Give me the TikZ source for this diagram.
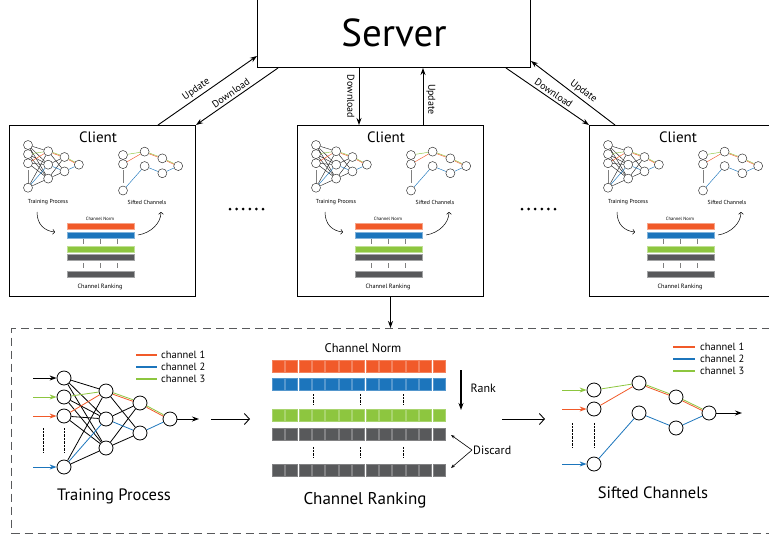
\documentclass[tikz,border=0pt]{standalone}
\usepackage{fontspec}
\setmainfont{PT Sans}
\usetikzlibrary{arrows.meta, calc}
\tikzset{>={Stealth[length=7pt, width=5pt]}}

\definecolor{chorange}{RGB}{241,90,41}
\definecolor{chblue}{RGB}{28,117,188}
\definecolor{chgreen}{RGB}{141,198,63}
\definecolor{chgray}{RGB}{88,89,91}

\tikzset{
  fs/.style={font=\fontsize{#1pt}{#1pt}\selectfont},
  neuron/.style={circle, draw, fill=white, inner sep=0pt, minimum size=#1},
  clientbox/.style={draw, line width=1pt, minimum width=186pt, minimum height=171pt,
    anchor=north west, inner sep=0pt},
  dots/.style={dash pattern=on 0.7pt off 0.7pt, line width=1pt},
  trainnet/.pic={
    \foreach \n/\y in {1/0, 2/19, 3/38, 4/89} \node[neuron=#1] (-i\n) at (0,\y) {};
    \foreach \n/\y in {1/13, 2/41, 3/70} \node[neuron=#1] (-h\n) at (42,\y) {};
    \foreach \n/\y in {1/25, 2/55} \node[neuron=#1] (-g\n) at (76,\y) {};
    \node[neuron=#1] (-o) at (106,41) {};
    \foreach \a/\b in {1/1, 1/2, 1/3, 2/2, 2/3, 3/2, 3/3, 4/1, 4/3} \draw (-i\a) -- (-h\b);
    \foreach \a/\b in {1/2, 2/1, 3/1, 3/2} \draw (-h\a) -- (-g\b);
    \draw[chgreen] (-i2) -- (-h1);
    \draw[chorange] (-i3) -- (-h1);
    \draw[chblue] (-i4) -- (-h2) -- (-g2) -- (-o);
    \draw[chgreen, transform canvas={yshift=\pgflinewidth}] (-h1) -- (-g1) -- (-o);
    \draw[chorange, transform canvas={yshift=-\pgflinewidth}] (-h1) -- (-g1) -- (-o);
  },
  siftnet/.pic={
    \foreach \n/\y in {1/0, 2/19, 3/74} \node[neuron=#1] (-i\n) at (0,\y) {};
    \foreach \n/\y in {1/-7, 2/23} \node[neuron=#1] (-h\n) at (45,\y) {};
    \foreach \n/\y in {1/7, 2/38} \node[neuron=#1] (-g\n) at (82,\y) {};
    \node[neuron=#1] (-o) at (115,23) {};
    \draw[chgreen] (-i1) -- (-h1);
    \draw[chorange] (-i2) -- (-h1);
    \draw[chblue] (-i3) -- (-h2) -- (-g2) -- (-o);
    \draw[chgreen, transform canvas={yshift=\pgflinewidth}] (-h1) -- (-g1) -- (-o);
    \draw[chorange, transform canvas={yshift=-\pgflinewidth}] (-h1) -- (-g1) -- (-o);
  },
}

% one client panel: #1 name, #2 top left corner
\newcommand{\clientpanel}[2]{%
  \node[clientbox] (#1) at (#2) {};
  \begin{scope}[shift={(#1.north west)}]
    \node[fs=15] (#1-title) at (89,12) {Client};
    \pic[scale=0.48, line width=0.45pt, black!85] (#1-tp) at (19,20) {trainnet=9pt};
    \pic[scale=0.48, line width=0.45pt, black!85] (#1-sc) at (114,30) {siftnet=9pt};
    \draw[gray, line width=0.5pt] (19,45) -- (19,58) (114,45) -- (114,58);
    \node[fs=5.8] (#1-tlab) at (39,77) {Training Process};
    \node[fs=5.8] (#1-slab) at (138,77) {Sifted Channels};
    \node[fs=4.6] (#1-norm) at (91,94) {Channel Norm};
    \foreach \c/\y in {chorange/98, chblue/107, chgreen/121, chgray/129, chgray/146}
      \filldraw[fill=\c, draw=\c!55!white, line width=0.4pt] (58,\y) rectangle (125,\y+6);
    \foreach \x in {74, 91, 108} \draw[gray, line width=0.5pt] (\x,114) -- (\x,119) (\x,138) -- (\x,143);
    \node[fs=6.2] (#1-rank) at (91,162) {Channel Ranking};
    \draw[-{To[length=2.5pt]}, line width=0.5pt] (28,87) .. controls (28,100) and (36,106) .. (46,107);
    \draw[-{To[length=2.5pt]}, line width=0.5pt] (129,110) .. controls (142,108) and (152,98) .. (152,87);
  \end{scope}
}

\begin{document}
\begin{tikzpicture}[x=1pt, y=-1pt]
\useasboundingbox (0,0) rectangle (769,539);

\node[draw, line width=1pt, minimum width=273pt, minimum height=69pt, anchor=north west,
  inner sep=0pt, fs=39] (server) at (257,-2) {Server};

\clientpanel{L}{9,125}
\clientpanel{M}{297,125}
\clientpanel{R}{589,125}

% server <-> clients
\coordinate (l-up) at ($(L.north west)+(149,0)$);
\coordinate (s-lu) at ($(server.south west)+(0,-12)$);
\coordinate (s-ld) at ($(server.south west)+(21,0)$);
\coordinate (s-md) at ($(server.south west)+(102,0)$);
\coordinate (m-dn) at ($(M.north west)+(62,0)$);
\coordinate (m-up) at ($(M.north west)+(126,0)$);
\coordinate (s-mu) at ($(server.south west)+(166,0)$);
\coordinate (s-rd) at ($(server.south east)+(-25,0)$);
\coordinate (r-up) at ($(R.north west)+(26,0)$);
\coordinate (s-ru) at ($(server.south east)+(0,-7)$);

\begin{scope}[line width=0.9pt, every node/.style={fs=10, sloped, inner sep=2.5pt}]
\draw[->] (l-up) -- node[above, pos=0.43] {Update} (s-lu);
\draw[<-] (L.north east) -- node[above, pos=0.47] {Download} (s-ld);
\draw[->] (s-md) -- node[below, inner sep=4pt] {Download} (m-dn);
\draw[<-] (s-mu) -- node[above, pos=0.55, inner sep=3pt] {Update} (m-up);
\draw[->] (s-rd) -- node[above, pos=0.53] {Download} (R.north west);
\draw[<-] (s-ru) -- node[above, pos=0.57] {Update} (r-up);
\end{scope}

\foreach \i in {0,...,5} {
  \fill (230+\i*6.6,209) circle (1.5);
  \fill (522+\i*6.6,209) circle (1.5);
}

% detail of one client
\node[draw=chgray, dash pattern=on 8pt off 5pt, line width=1.2pt, minimum width=764pt,
  minimum height=205pt, anchor=north west, inner sep=0pt] (detail) at (11,328) {};
\draw[->, line width=1pt] (M.south) -- (M.south |- detail.north);

% training process
\pic[line width=0.8pt] (tp) at (64,378) {trainnet=14pt};
\foreach \n/\c in {1/black, 2/chgreen, 3/chorange, 4/chblue}
  \draw[<-, \c, line width=1pt] (tp-i\n) -- ++(-31,0);
\draw[dots] (43,428) -- (43,453) (64,428) -- (64,453);
\draw[->, line width=1pt] (tp-o) -- ++(29,0);
\foreach \c [count=\n] in {chorange, chblue, chgreen} {
  \draw[color=\c, line width=1.2pt] (136,343+\n*12) -- (157,343+\n*12);
  \node[anchor=west, fs=10.5, inner sep=1pt] (tleg\n) at (160,343+\n*12) {channel \n};
}
\node[fs=16.5] (tlabel) at (114,496) {Training Process};

\coordinate (f1s) at (211,419);
\coordinate (f1e) at (250,419);
\draw[-{Straight Barb[length=5pt, width=11pt]}, line width=0.9pt] (f1s) -- (f1e);

% channel ranking
\node[fs=12.5] (cnorm) at (363,348) {Channel Norm};
\foreach \c/\y in {chorange/360, chblue/378, chgreen/409, chgray/428, chgray/464}
  \foreach \k in {0,...,12}
    \filldraw[fill=\c, draw=\c!75!white, line width=0.3pt] (272+\k*13.4,\y) rectangle ++(12.2,12.5);
\foreach \x in {313, 360, 403} \draw[dots] (\x,394) -- (\x,405) (\x,447) -- (\x,458);
\coordinate (rk-a) at (461,370);
\coordinate (rk-b) at (461,410);
\draw[->, line width=1.2pt] (rk-a) -- (rk-b);
\node[anchor=west, fs=12] (rank) at (467,388) {Rank};
\node[anchor=west, fs=12, inner sep=1pt] (discard) at (472,450) {Discard};
\coordinate (row4) at (451,435);
\coordinate (row5) at (451,468);
\draw[-{Stealth[length=4pt, width=3pt]}, line width=0.6pt] (discard.west) -- (row4);
\draw[-{Stealth[length=4pt, width=3pt]}, line width=0.6pt] (discard.west) -- (row5);
\node[fs=17] (crank) at (365,500) {Channel Ranking};

\coordinate (f2s) at (502,419);
\coordinate (f2e) at (545,419);
\draw[-{Straight Barb[length=5pt, width=11pt]}, line width=0.9pt] (f2s) -- (f2e);

% sifted channels
\pic[line width=0.8pt] (sc) at (594,390) {siftnet=14pt};
\foreach \n/\c in {1/chgreen, 2/chorange, 3/chblue}
  \draw[<-, \c, line width=1pt] (sc-i\n) -- ++(-32,0);
\draw[dots] (572,423) -- (572,448) (594,423) -- (594,448);
\draw[->, line width=1pt] (sc-o) -- ++(33,0);
\foreach \c [count=\n] in {chorange, chblue, chgreen} {
  \draw[color=\c, line width=1.2pt] (673,335+\n*12) -- (695,335+\n*12);
  \node[anchor=west, fs=10.5, inner sep=1pt] (sleg\n) at (699,335+\n*12) {channel \n};
}
\node[fs=16.5] (slabel) at (653,493) {Sifted Channels};
\end{tikzpicture}
\end{document}
